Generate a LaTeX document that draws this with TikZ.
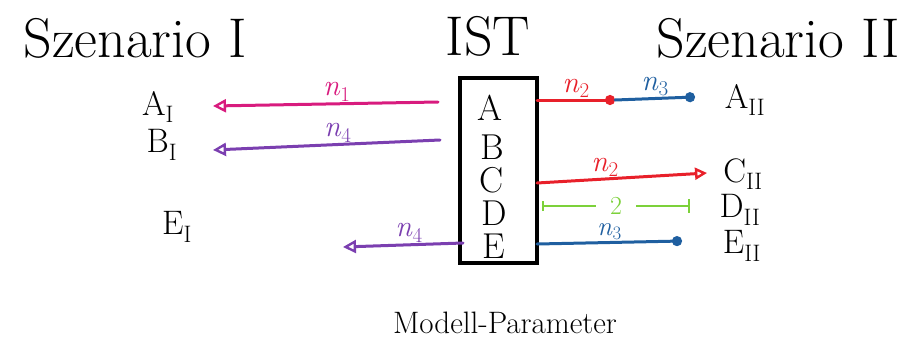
\documentclass[tikz,border=0pt]{standalone}
\usepackage{fontspec}
\usetikzlibrary{arrows.meta}
\definecolor{cMag}{HTML}{D81B7E}
\definecolor{cPur}{HTML}{7B3FB0}
\definecolor{cRed}{HTML}{E8202A}
\definecolor{cBlue}{HTML}{1F5FA0}
\definecolor{cGreen}{HTML}{7CD13A}
\newcommand{\sub}[2]{#1\textsubscript{#2}}
\newcommand{\nsub}[1]{\textit{n}\textsubscript{#1}}
\tikzset{
  title/.style={font=\fontsize{56}{60}\selectfont},
  letter/.style={font=\fontsize{36}{38}\selectfont},
  lbl/.style={font=\fontsize{34}{36}\selectfont},
  elbl/.style={font=\fontsize{30}{32}\selectfont, inner sep=1pt},
  conn/.style={line width=3pt, line cap=round},
  openarr/.style={conn, -{Triangle[open, length=13pt, width=13pt, line width=2.4pt]}},
  dotarr/.style={conn, -{Circle[length=10pt]}},
}
\begin{document}
\begin{tikzpicture}[x=1pt,y=-1pt]
\useasboundingbox (0,0) rectangle (917,346);
% titles
\node[title] (s1) at (135,38) {Szenario I};
\node[title] (ist) at (488,36) {IST};
\node[title] (s2) at (778,38) {Szenario II};
% box
\node[draw, line width=3.5pt, minimum width=77, minimum height=185] (box) at (498.5,170.5) {};
\node[letter] (la) at (490,108) {A};
\node[letter] (lb) at (492,147) {B};
\node[letter] (lc) at (492,180) {C};
\node[letter] (ld) at (494,213) {D};
\node[letter] (le) at (494,246) {E};
% left labels
\node[lbl] (ai) at (158,107) {\sub{A}{I}};
\node[lbl] (bi) at (162,145) {\sub{B}{I}};
\node[lbl] (ei) at (177,227) {\sub{E}{I}};
% right labels
\node[lbl] (aii) at (745,100) {\sub{A}{II}};
\node[lbl] (cii) at (743,174) {\sub{C}{II}};
\node[lbl] (dii) at (740,210) {\sub{D}{II}};
\node[lbl] (eii) at (742,246) {\sub{E}{II}};
% coordinates
\coordinate (aL) at (438,102);
\coordinate (aLend) at (213,106);
\coordinate (bL) at (440,140);
\coordinate (bLend) at (213,150);
\coordinate (eL) at (463,243);
\coordinate (eLend) at (343,247);
\coordinate (aR) at (537,100);
\coordinate (aRmid) at (615,100);
\coordinate (aRend) at (695,97);
\coordinate (cR) at (537,183);
\coordinate (cRend) at (707,173);
\coordinate (dR) at (542,206);
\coordinate (dRend) at (690,206);
\coordinate (eR) at (537,244);
\coordinate (eRend) at (682,241);
% left connectors
\draw[openarr, cMag] (aL) -- node[elbl, above, pos=0.45] (n1) {\nsub{1}} (aLend);
\draw[openarr, cPur] (bL) -- node[elbl, above, pos=0.45] (n4a) {\nsub{4}} (bLend);
\draw[openarr, cPur] (eL) -- node[elbl, above, pos=0.45] (n4b) {\nsub{4}} (eLend);
% right connectors
\draw[dotarr, cRed] (aR) -- node[elbl, above] (n2a) {\nsub{2}} (aRmid);
\draw[dotarr, cBlue] (aRmid) -- node[elbl, above] (n3a) {\nsub{3}} (aRend);
\draw[conn, cRed, -{Triangle[open, length=12pt, width=12pt, line width=2.4pt]}] (cR) -- node[elbl, above, pos=0.4] (n2b) {\nsub{2}} (cRend);
\draw[conn, cGreen, line width=2.4pt, {Bar[width=10pt]}-{Bar[width=14pt]}] (dR) -- node[fill=white, inner xsep=14pt, inner ysep=0pt, font=\fontsize{26}{26}\selectfont] (two) {2} (dRend);
\draw[dotarr, cBlue] (eR) -- node[elbl, above, pos=0.5, font=\fontsize{27}{28}\selectfont] (n3b) {\nsub{3}} (eRend);
% caption
\node[font=\fontsize{31}{33}\selectfont] (cap) at (505,323) {Modell-Parameter};
\end{tikzpicture}
\end{document}
